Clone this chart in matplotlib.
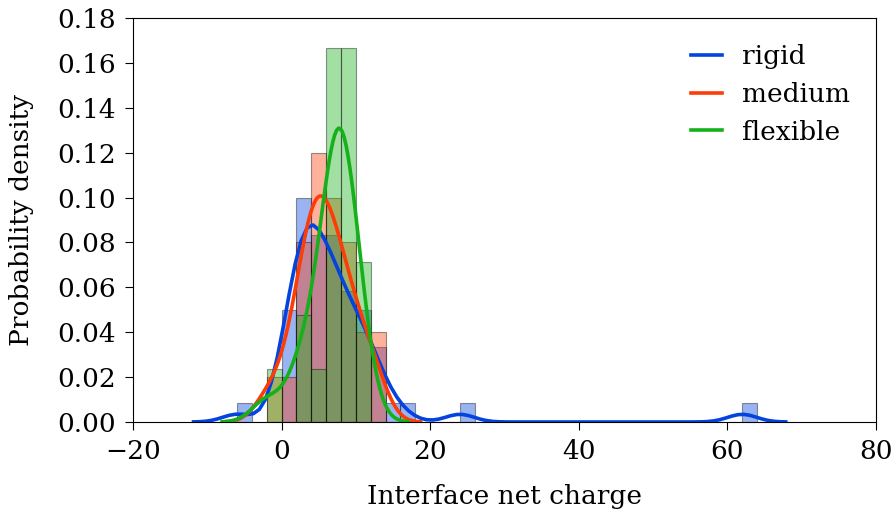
import numpy as np
import matplotlib
matplotlib.use('Agg')
import matplotlib.pyplot as plt

# Interface net charge samples
rigid = [-6, 0, 0, 1, 1, 1, 1, 2, 2, 2, 2, 3, 3, 3, 3, 3, 3, 3, 3,
         4, 4, 4, 4, 4, 4, 5, 5, 5, 5, 6, 6, 6, 6, 6, 6, 7, 7, 7, 7,
         8, 8, 8, 8, 9, 9, 9, 10, 10, 10, 11, 11, 11, 12, 12, 13, 13,
         14, 16, 24, 62]
medium = [-2, 0, 2, 2, 3, 3, 4, 4, 4, 5, 5, 5, 6, 6, 6, 7, 7,
          8, 8, 9, 9, 10, 11, 12, 13]
flexible = [-2, 2, 3, 4, 6, 6, 6, 7, 7, 7, 7, 8, 8, 8, 8, 9, 9, 9,
            10, 10, 11]

groups = ['rigid', 'medium', 'flexible']
samples = [rigid, medium, flexible]
bin_edges = [np.arange(-6, 66, 2), np.arange(-2, 16, 2), np.arange(-2, 14, 2)]
bandwidths = [1.95, 1.9, 2.0]
colors = ['#0343df', '#fd3c06', '#15b01a']

plt.rcParams['font.family'] = 'DejaVu Serif'
plt.rcParams['font.size'] = 19


def kde_curve(data, bw, cut=3, gridsize=100):
    data = np.asarray(data, dtype=float)
    grid = np.linspace(data.min() - cut * bw, data.max() + cut * bw, gridsize)
    z = (grid[:, None] - data[None, :]) / bw
    dens = np.exp(-0.5 * z ** 2).sum(axis=1) / (len(data) * bw * np.sqrt(2 * np.pi))
    return grid, dens


fig = plt.figure(figsize=(8.96, 5.16), dpi=100)
ax = fig.add_axes([0.1484, 0.1822, 0.8293, 0.7829])

for name, data, edges, bw, c in zip(groups, samples, bin_edges, bandwidths, colors):
    ax.hist(data, bins=edges, density=True, color=c, alpha=0.4,
            edgecolor='black', linewidth=0.8)
    x, y = kde_curve(data, bw)
    ax.plot(x, y, color=c, lw=2.6, label=name)

ax.set_xlim(-20, 80)
ax.set_ylim(0, 0.18)
ax.set_xticks([-20, 0, 20, 40, 60, 80])
ax.set_yticks(np.arange(0, 0.19, 0.02))
ax.yaxis.set_major_formatter(matplotlib.ticker.FormatStrFormatter('%.2f'))
ax.tick_params(direction='out', length=6, top=False, right=False, pad=6)
ax.set_xlabel('Interface net charge', labelpad=15)
ax.set_ylabel('Probability density', labelpad=17)
ax.legend(loc='upper right', frameon=False, handlelength=1.15,
          handletextpad=0.75, borderaxespad=0.6, labelspacing=0.48)

fig.savefig('out.png', dpi=100)
